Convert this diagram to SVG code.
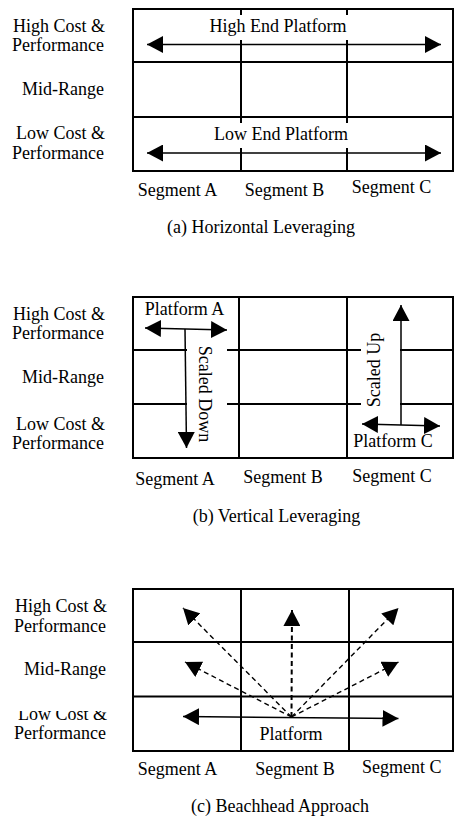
<svg xmlns="http://www.w3.org/2000/svg" width="454" height="817" viewBox="0 0 454 817">
<style>
text{font-family:"Liberation Serif","Times New Roman",serif;font-size:18px;fill:#000}
.lbl{text-anchor:end}
.mid{text-anchor:middle}
.grid{fill:none;stroke:#000;stroke-width:2}
.bg{fill:#fff;stroke:none}
.arr{stroke:#000;stroke-width:1.5;fill:none}
.dash{stroke:#000;stroke-width:1.4;fill:none;stroke-dasharray:5 3.5}
.dash2{stroke:#000;stroke-width:2;fill:none;stroke-dasharray:5 3.5}
</style>
<defs>
<marker id="ah" viewBox="0 0 16 17" refX="16" refY="8.5" markerWidth="16" markerHeight="17" markerUnits="userSpaceOnUse" orient="auto-start-reverse">
<path d="M0,0 L16,8.5 L0,17 Z" fill="#000" stroke="none"/>
</marker>
<clipPath id="clipLow"><rect x="0" y="711" width="130" height="40"/></clipPath>
</defs>
<rect width="454" height="817" fill="#fff"/>

<!-- Panel (a) -->
<g id="panel-a">
<g id="a-rows">
<text class="lbl" x="105" y="32">High Cost &amp;</text>
<text class="lbl" x="104" y="51">Performance</text>
<text class="lbl" x="104" y="95">Mid-Range</text>
<text class="lbl" x="105" y="139">Low Cost &amp;</text>
<text class="lbl" x="104" y="159">Performance</text>
</g>
<g id="a-grid">
<rect class="grid" x="133" y="9" width="320" height="162"/>
<line class="grid" x1="133" y1="62" x2="453" y2="62"/>
<line class="grid" x1="133" y1="117" x2="453" y2="117"/>
<line class="grid" x1="241" y1="9" x2="241" y2="171"/>
<line class="grid" x1="347" y1="9" x2="347" y2="171"/>
</g>
<g id="a-high-platform">
<rect class="bg" x="203" y="15" width="153" height="25"/>
<text class="mid" x="278" y="32">High End Platform</text>
</g>
<g id="a-low-platform">
<rect class="bg" x="205" y="123" width="152" height="25"/>
<text class="mid" x="281" y="140">Low End Platform</text>
</g>
<g id="a-segments">
<text class="mid" x="177.5" y="196">Segment A</text>
<text class="mid" x="284.5" y="196">Segment B</text>
<text class="mid" x="391.5" y="193">Segment C</text>
</g>
<text id="a-caption" class="mid" x="261" y="233">(a) Horizontal Leveraging</text>
</g>

<!-- Panel (b) -->
<g id="panel-b">
<g id="b-rows">
<text class="lbl" x="105" y="320">High Cost &amp;</text>
<text class="lbl" x="104" y="339">Performance</text>
<text class="lbl" x="104" y="383">Mid-Range</text>
<text class="lbl" x="105" y="430">Low Cost &amp;</text>
<text class="lbl" x="104" y="449">Performance</text>
</g>
<g id="b-grid">
<rect class="grid" x="133" y="297" width="320" height="161"/>
<line class="grid" x1="133" y1="350" x2="453" y2="350"/>
<line class="grid" x1="133" y1="404" x2="453" y2="404"/>
<line class="grid" x1="239" y1="297" x2="239" y2="458"/>
<line class="grid" x1="347" y1="297" x2="347" y2="458"/>
</g>
<g id="b-platform-a">
<rect class="bg" x="187" y="338" width="40" height="117"/>
<text class="mid" x="184.5" y="315">Platform A</text>
<text class="mid" transform="translate(198.5,394) rotate(90)">Scaled Down</text>
</g>
<g id="b-platform-c">
<rect class="bg" x="361" y="312" width="39" height="103"/>
<text class="mid" transform="translate(379.5,370) rotate(-90)">Scaled Up</text>
<text class="mid" x="393" y="447">Platform C</text>
</g>
<g id="b-segments">
<text class="mid" x="175" y="485">Segment A</text>
<text class="mid" x="283" y="483">Segment B</text>
<text class="mid" x="392" y="482">Segment C</text>
</g>
<text id="b-caption" class="mid" x="276.5" y="522">(b) Vertical Leveraging</text>
</g>

<!-- Panel (c) -->
<g id="panel-c">
<g id="c-rows">
<text class="lbl" x="107" y="612">High Cost &amp;</text>
<text class="lbl" x="106" y="632">Performance</text>
<text class="lbl" x="106" y="675">Mid-Range</text>
<text class="lbl" x="107" y="720" clip-path="url(#clipLow)">Low Cost &amp;</text>
<text class="lbl" x="106" y="739">Performance</text>
</g>
<g id="c-grid">
<rect class="grid" x="133" y="589" width="320" height="162"/>
<line class="grid" x1="133" y1="642" x2="453" y2="642"/>
<line class="grid" x1="133" y1="696.5" x2="453" y2="696.5"/>
<line class="grid" x1="241" y1="589" x2="241" y2="751"/>
<line class="grid" x1="349" y1="589" x2="349" y2="751"/>
</g>
<g id="c-platform">
<text class="mid" x="291" y="740">Platform</text>
</g>
<g id="c-segments">
<text class="mid" x="177.5" y="775">Segment A</text>
<text class="mid" x="295" y="775">Segment B</text>
<text class="mid" x="401.7" y="773">Segment C</text>
</g>
<text id="c-caption" class="mid" x="280" y="812">(c) Beachhead Approach</text>
</g>

<!-- Connectors -->
<g id="connectors">
<line class="arr" x1="147" y1="44.5" x2="441" y2="44.5" marker-start="url(#ah)" marker-end="url(#ah)"/>
<line class="arr" x1="147" y1="153" x2="441" y2="153" marker-start="url(#ah)" marker-end="url(#ah)"/>

<line class="arr" x1="145" y1="328" x2="227" y2="330" marker-start="url(#ah)" marker-end="url(#ah)"/>
<line class="arr" x1="185" y1="329" x2="186.5" y2="448" marker-end="url(#ah)"/>
<line class="arr" x1="362" y1="424" x2="440" y2="426" marker-start="url(#ah)" marker-end="url(#ah)"/>
<line class="arr" x1="401" y1="425" x2="401" y2="305" marker-end="url(#ah)"/>

<line class="arr" x1="183" y1="716.5" x2="398.5" y2="718.5" marker-start="url(#ah)" marker-end="url(#ah)"/>
<line class="dash2" x1="291.5" y1="717" x2="292" y2="610" marker-end="url(#ah)"/>
<line class="dash" x1="291.5" y1="717" x2="183" y2="608" marker-end="url(#ah)"/>
<line class="dash" x1="291.5" y1="717" x2="398.5" y2="608" marker-end="url(#ah)"/>
<line class="dash" x1="291.5" y1="717" x2="185" y2="662" marker-end="url(#ah)"/>
<line class="dash" x1="291.5" y1="717" x2="398.5" y2="662" marker-end="url(#ah)"/>
</g>
</svg>
